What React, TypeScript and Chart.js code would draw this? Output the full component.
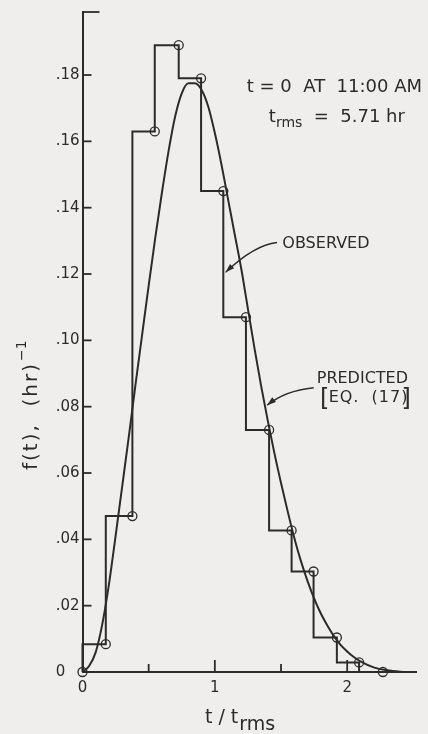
import React, { useEffect, useRef } from 'react';
import { Chart, registerables } from 'chart.js';

Chart.register(...registerables);

// Observed histogram (1-hr bins), circle at right end of each step
const observedX = [0, 0.176, 0.377, 0.546, 0.727, 0.896, 1.064, 1.235, 1.41, 1.58, 1.746, 1.922, 2.09, 2.27];
const observedY = [0, 0.0084, 0.047, 0.163, 0.189, 0.179, 0.145, 0.107, 0.073, 0.0427, 0.0303, 0.0104, 0.0029, 0];

// Predicted curve [Eq. (17)]
const predictedX = [0, 0.05, 0.1, 0.15, 0.2, 0.25, 0.3, 0.35, 0.4, 0.45, 0.5, 0.55, 0.6, 0.65, 0.7, 0.75, 0.8, 0.85, 0.9, 0.95, 1.0, 1.05, 1.1, 1.15, 1.2, 1.25, 1.3, 1.35, 1.4, 1.45, 1.5, 1.55, 1.6, 1.65, 1.7, 1.75, 1.8, 1.85, 1.9, 1.95, 2.0, 2.05, 2.1, 2.2, 2.3, 2.4, 2.48];
const predictedY = [0, 0.0018, 0.006, 0.0145, 0.0265, 0.041, 0.056, 0.071, 0.0865, 0.1015, 0.1165, 0.131, 0.1445, 0.157, 0.1675, 0.1745, 0.1775, 0.1775, 0.1755, 0.1705, 0.1625, 0.153, 0.1425, 0.132, 0.1215, 0.1095, 0.0975, 0.0862, 0.0758, 0.066, 0.057, 0.0485, 0.0405, 0.0335, 0.0275, 0.0222, 0.0177, 0.014, 0.0108, 0.0082, 0.0062, 0.0045, 0.0032, 0.0014, 0.0005, 0.0001, 0];

const xMajorTicks = [1, 2];
const xMinorTicks = [0.5, 1.5];
const X_MIN = 0;
const X_MAX = 2.52;
const Y_MIN = 0;
const Y_MAX = 0.199;
const Y_STEP = 0.02;

const INK = '#2b2b2b';
const PAPER = '#efeeec';
const FONT = '"DejaVu Sans", sans-serif';

function drawArrow(ctx: CanvasRenderingContext2D, sx: number, sy: number, cx: number, cy: number, tx: number, ty: number) {
  ctx.beginPath();
  ctx.moveTo(sx, sy);
  ctx.quadraticCurveTo(cx, cy, tx, ty);
  ctx.lineWidth = 1.3;
  ctx.stroke();
  const ang = Math.atan2(ty - cy, tx - cx);
  const len = 9;
  const half = 3;
  const bx = tx - len * Math.cos(ang);
  const by = ty - len * Math.sin(ang);
  ctx.beginPath();
  ctx.moveTo(tx, ty);
  ctx.lineTo(bx + half * Math.sin(ang), by - half * Math.cos(ang));
  ctx.lineTo(bx - half * Math.sin(ang), by + half * Math.cos(ang));
  ctx.closePath();
  ctx.fill();
}

const annotatePlugin = {
  id: 'annotate',
  afterDraw(chart: any) {
    const { ctx, chartArea, scales } = chart;
    const xs = scales.x;
    const ys = scales.y;
    const X = (v: number) => xs.getPixelForValue(v);
    const Y = (v: number) => ys.getPixelForValue(v);
    const c = ctx as CanvasRenderingContext2D & { letterSpacing?: string };
    c.save();
    c.strokeStyle = INK;
    c.fillStyle = INK;
    c.lineWidth = 1.8;
    c.lineCap = 'butt';

    // inward tick marks
    const seg = (x1: number, y1: number, x2: number, y2: number) => {
      c.beginPath();
      c.moveTo(x1, y1);
      c.lineTo(x2, y2);
      c.stroke();
    };
    for (const t of ys.ticks) {
      if (t.value > 0) seg(chartArea.left, Y(t.value), chartArea.left + 9, Y(t.value));
    }
    seg(chartArea.left, chartArea.top, chartArea.left + 17, chartArea.top);
    for (const v of xMajorTicks) seg(X(v), chartArea.bottom, X(v), chartArea.bottom - 12);
    for (const v of xMinorTicks) seg(X(v), chartArea.bottom, X(v), chartArea.bottom - 8);

    c.textBaseline = 'alphabetic';
    c.textAlign = 'left';

    // top-right notes
    c.letterSpacing = '0px';
    c.font = `18px ${FONT}`;
    c.fillText('t = 0  AT  11:00 AM', X(1.241), Y(0.1749));
    let x0 = X(1.408);
    const b2 = Y(0.1659);
    c.fillText('t', x0, b2);
    x0 += c.measureText('t').width;
    c.font = `14px ${FONT}`;
    c.fillText('rms', x0, b2 + 5);
    x0 += c.measureText('rms').width;
    c.font = `18px ${FONT}`;
    c.fillText('  =  5.71 hr', x0, b2);

    // OBSERVED label + arrow
    c.font = `16px ${FONT}`;
    c.textBaseline = 'middle';
    c.fillText('OBSERVED', X(1.51), Y(0.129));
    drawArrow(c, X(1.47), Y(0.1295), X(1.3), Y(0.1288), X(1.081), Y(0.1205));

    // PREDICTED label + arrow
    c.fillText('PREDICTED', X(1.77), Y(0.0884));
    c.font = `24px ${FONT}`;
    c.fillText('[', X(1.795), Y(0.0822));
    c.fillText(']', X(2.41), Y(0.0822));
    c.font = `16px ${FONT}`;
    c.letterSpacing = '1px';
    c.fillText('EQ.  (17)', X(1.86), Y(0.0826));
    c.letterSpacing = '0px';
    drawArrow(c, X(1.747), Y(0.0857), X(1.528), Y(0.0848), X(1.395), Y(0.0804));

    // x-axis title t/t_rms
    c.textBaseline = 'alphabetic';
    c.font = `19px ${FONT}`;
    let tx = X(0.925);
    const tb = chartArea.bottom + 51;
    c.fillText('t / t', tx, tb);
    tx += c.measureText('t / t').width + 1;
    c.fillText('rms', tx, tb + 7);

    // y-axis title f(t), (hr)^-1
    c.save();
    c.translate(chartArea.left - 45.5, chartArea.bottom - 202);
    c.rotate(-Math.PI / 2);
    c.font = `20px ${FONT}`;
    c.letterSpacing = '2px';
    c.fillText('f(t),  (hr)', 0, 0);
    const w = c.measureText('f(t),  (hr)').width;
    c.font = `14px ${FONT}`;
    c.letterSpacing = '0px';
    c.fillText('\u2212' + '1', w + 1, -11);
    c.restore();

    c.restore();
  },
};

export default function App() {
  const canvasRef = useRef<HTMLCanvasElement | null>(null);

  useEffect(() => {
    const canvas = canvasRef.current;
    if (!canvas) return;
    const observed = observedX.map((x, i) => ({ x, y: observedY[i] }));
    const predicted = predictedX.map((x, i) => ({ x, y: predictedY[i] }));

    const chart = new Chart(canvas, {
      type: 'line',
      data: {
        datasets: [
          {
            label: 'Predicted [Eq. (17)]',
            data: predicted,
            borderColor: INK,
            borderWidth: 2,
            pointRadius: 0,
            cubicInterpolationMode: 'monotone',
            fill: false,
          },
          {
            label: 'Observed',
            data: observed,
            stepped: 'after',
            borderColor: INK,
            borderWidth: 2,
            pointRadius: 4.5,
            pointBorderWidth: 1.3,
            pointBorderColor: INK,
            pointBackgroundColor: 'rgba(0,0,0,0)',
            fill: false,
            clip: false,
          } as any,
        ],
      },
      options: {
        animation: false,
        responsive: false,
        maintainAspectRatio: false,
        layout: { padding: { left: 0, top: 12, right: 12, bottom: 0 } },
        plugins: {
          legend: { display: false },
          tooltip: { enabled: false },
        },
        scales: {
          x: {
            type: 'linear',
            min: X_MIN,
            max: X_MAX,
            afterFit: (s: any) => {
              s.height = 62;
            },
            border: { display: true, color: INK, width: 2 },
            grid: { display: true, drawOnChartArea: false, drawTicks: false },
            ticks: {
              stepSize: 1,
              includeBounds: false,
              autoSkip: false,
              maxRotation: 0,
              padding: 7,
              color: INK,
              font: { family: FONT, size: 15 },
              callback: (v: any) => (Number.isInteger(v) ? String(v) : ''),
            },
          },
          y: {
            type: 'linear',
            min: Y_MIN,
            max: Y_MAX,
            afterFit: (s: any) => {
              s.width = 82.5;
            },
            border: { display: true, color: INK, width: 2 },
            grid: { display: true, drawOnChartArea: false, drawTicks: false },
            ticks: {
              stepSize: Y_STEP,
              includeBounds: false,
              autoSkip: false,
              padding: 3,
              color: INK,
              font: { family: FONT, size: 15 },
              callback: (v: any) => {
                const r = Math.round(Number(v) * 100) / 100;
                if (r === 0) return '0   ';
                return r.toFixed(2).replace(/^0/, '');
              },
            },
          },
        },
      },
      plugins: [annotatePlugin],
    });
    return () => chart.destroy();
  }, []);

  return (
    <div style={{ position: 'fixed', left: 0, top: 0, width: 428, height: 734, background: PAPER }}>
      <canvas ref={canvasRef} width={428} height={734} style={{ display: 'block', width: 428, height: 734 }} />
    </div>
  );
}
